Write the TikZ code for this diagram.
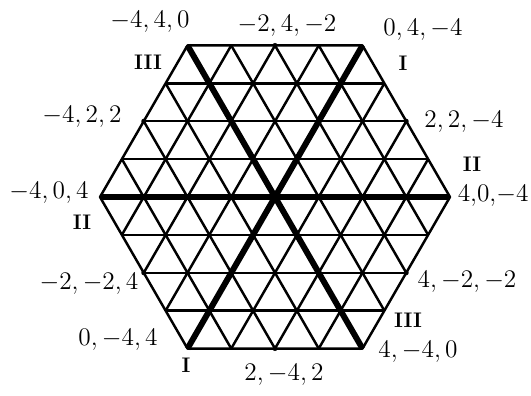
\documentclass[tikz,border=0pt]{standalone}
\usetikzlibrary{positioning}
\tikzset{
  gridline/.style={line width=1.4pt},
  axisline/.style={line width=3.4pt},
  lbl/.style={font=\Large, inner sep=1pt},
  numeral/.style={font=\large\bfseries, inner sep=1pt},
  ptdot/.style={fill=black}
}

\begin{document}
\begin{tikzpicture}[line join=round]
  \useasboundingbox (-5.5,-3.96) rectangle (5.12,3.94);
  % corners and edge midpoints of the hexagon (side 4 cells)
  \foreach \ang/\nm in {0/E,60/NE,120/NW,180/W,240/SW,300/SE}
    \coordinate (\nm) at (\ang:3.5);
  \foreach \ang/\nm in {30/mNE,90/mN,150/mNW,210/mSW,270/mS,330/mSE}
    \coordinate (\nm) at (\ang:3.031);
  % triangular grid
  \begin{scope}
    \clip (E) -- (NE) -- (NW) -- (W) -- (SW) -- (SE) -- cycle;
    \foreach \r in {0,60,120}
      \foreach \k in {-3,...,3}
        \draw[gridline, rotate=\r] (-4,\k*0.7578) -- (4,\k*0.7578);
  \end{scope}
  \draw[gridline] (E) -- (NE) -- (NW) -- (W) -- (SW) -- (SE) -- cycle;
  % the three axes
  \draw[axisline] (W) -- (E);
  \draw[axisline] (SW) -- (NE);
  \draw[axisline] (SE) -- (NW);
  \foreach \p in {mN,mNE,mNW,mS,mSE,mSW}
    \fill[ptdot] (\p) circle (0.05);
  % coordinates
  \node[lbl] (tNW) at (-2.5,3.5) {$-4,4,0$};
  \node[lbl] (tN) at (0.24,3.42) {$-2,4,-2$};
  \node[lbl] (tNE) at (2.96,3.34) {$0,4,-4$};
  \node[lbl] (tmNE) at (3.78,1.5) {$2,2,-4$};
  \node[lbl, anchor=east] (tE) at (5.11,0.02) {$4{,}0{,}{-}4$};
  \node[lbl] (tmSE) at (3.84,-1.7) {$4,-2,-2$};
  \node[lbl] (tSE) at (2.86,-3.1) {$4,-4,0$};
  \node[lbl] (tS) at (0.18,-3.56) {$2,-4,2$};
  \node[lbl] (tSW) at (-3.14,-2.86) {$0,-4,4$};
  \node[lbl] (tmSW) at (-3.72,-1.74) {$-2,-2,4$};
  \node[lbl] (tW) at (-4.52,0.08) {$-4,0,4$};
  \node[lbl] (tmNW) at (-3.86,1.6) {$-4,2,2$};
  % axis numbers
  \node[numeral] (nNW) at (-2.54,2.7) {III};
  \node[numeral] (nNE) at (2.56,2.68) {I};
  \node[numeral] (nE) at (3.94,0.66) {II};
  \node[numeral] (nSE) at (2.66,-2.46) {III};
  \node[numeral] (nSW) at (-1.78,-3.36) {I};
  \node[numeral] (nW) at (-3.86,-0.5) {II};
\end{tikzpicture}
\end{document}
